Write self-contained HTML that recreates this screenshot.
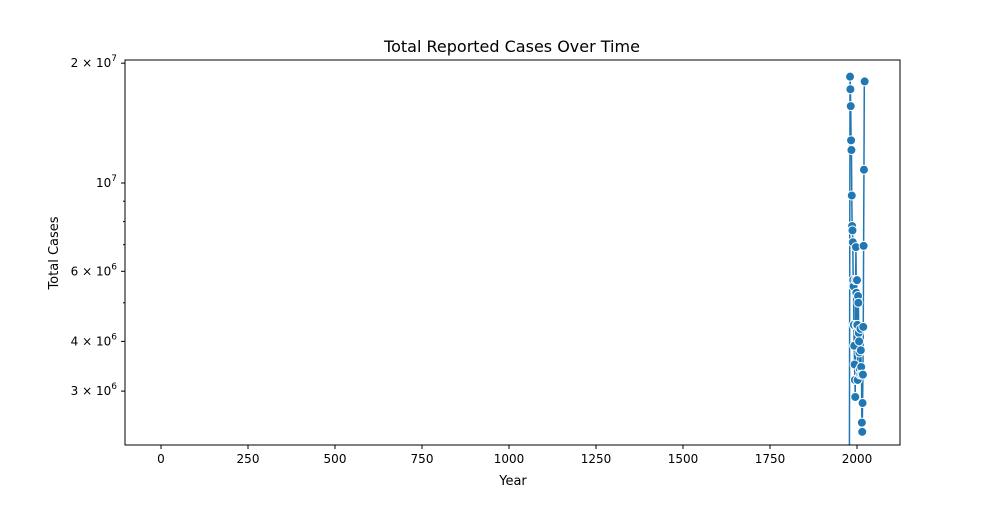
<!DOCTYPE html>
<html><head><meta charset="utf-8"><style>
body{margin:0;background:#fff;}
svg text{font-family:"DejaVu Sans","Liberation Sans",sans-serif;fill:#000;}
</style></head><body>
<svg id="chart" width="1000" height="500" xmlns="http://www.w3.org/2000/svg">
<rect width="1000" height="500" fill="#fff"/>
<text x="512" y="52" font-size="16" text-anchor="middle">Total Reported Cases Over Time</text>
<g id="plot"></g>
<g id="axes"></g>
<text x="513" y="485" font-size="13" text-anchor="middle">Year</text>
<text transform="translate(58,253) rotate(-90)" font-size="13" text-anchor="middle">Total Cases</text>
</svg>
<script>
const years = [1978,1980,1981,1982,1983,1984,1985,1986,1987,1988,1989,1990,1991,1992,1993,1994,1995,1996,1997,1998,1999,2000,2001,2002,2003,2004,2005,2006,2007,2008,2009,2010,2011,2012,2013,2014,2015,2016,2017,2018,2019,2020,2021,2022];
const cases = [0,18.5e6,17.2e6,15.6e6,12.8e6,12.1e6,9.3e6,7.8e6,7.6e6,7.1e6,5.7e6,5.5e6,4.4e6,3.9e6,3.5e6,3.2e6,2.9e6,5.7e6,6.9e6,5.3e6,4.4e6,5.7e6,4.4e6,3.2e6,5.2e6,5.0e6,4.2e6,4.0e6,3.75e6,3.4e6,3.3e6,4.3e6,3.8e6,3.45e6,3.3e6,2.5e6,2.37e6,2.8e6,3.3e6,4.35e6,6.95e6,1.08e7,1.8e7,1.8e7];
const xTicks = [0,250,500,750,1000,1250,1500,1750,2000];
const yMajor = [2e7,1e7,6e6,4e6,3e6];
const yMajorLabels = [["2","7"],["","7"],["6","6"],["4","6"],["3","6"]];
const yMinor = [5e6,7e6,8e6,9e6];
const L=125,R=900,T=60,B=445;
const NS="http://www.w3.org/2000/svg";
function xS(v){return 161+(v-0)*(857-161)/2000;}
function yS(v){ if(v<=0) return B+50; return 183-(Math.log10(v)-7)*398;}
function mk(tag,attrs,parent){const e=document.createElementNS(NS,tag);for(const k in attrs)e.setAttribute(k,attrs[k]);parent.appendChild(e);return e;}
const plot=document.getElementById('plot'),axes=document.getElementById('axes');
const defs=mk('defs',{},plot);const cp=mk('clipPath',{id:'clip'},defs);mk('rect',{x:L,y:T,width:R-L,height:B-T},cp);
const g=mk('g',{'clip-path':'url(#clip)'},plot);
const line=mk('polyline',{points:years.map((y,i)=>xS(y)+','+yS(cases[i])).join(' '),fill:'none',stroke:'#1f77b4','stroke-width':1.5},g);


years.forEach((y,i)=>{if(cases[i]<=0)return;
 const c=mk('circle',{cx:xS(y),cy:yS(cases[i]),r:4.5,fill:'#1f77b4',stroke:'#fff','stroke-width':1},g);
 
 });
const fr=mk('rect',{x:L,y:T,width:R-L,height:B-T,fill:'none',stroke:'#000','stroke-width':1},axes);


xTicks.forEach(v=>{const x=xS(v);
 const t=mk('line',{x1:x,x2:x,y1:B,y2:B+4,stroke:'#000'},axes);
 
 
 const tx=mk('text',{x:x,y:B+18,'font-size':12,'text-anchor':'middle'},axes);tx.textContent=v;
 
 });
yMajor.forEach((v,i)=>{const y=yS(v);
 const t=mk('line',{x1:L-4,x2:L,y1:y,y2:y,stroke:'#000'},axes);
 
 
 const tx=mk('text',{x:L-8,y:y+4,'font-size':12,'text-anchor':'end'},axes);
 const [m,e]=yMajorLabels[i];
 tx.textContent=(m?m+' \u00d7 ':'')+'10';
 const s=mk('tspan',{dy:-6,'font-size':9},tx);s.textContent=e;
 
 });
yMinor.forEach(v=>{const y=yS(v);
 const t=mk('line',{x1:L-2,x2:L,y1:y,y2:y,stroke:'#000'},axes);
 
 });
</script>
</body></html>
